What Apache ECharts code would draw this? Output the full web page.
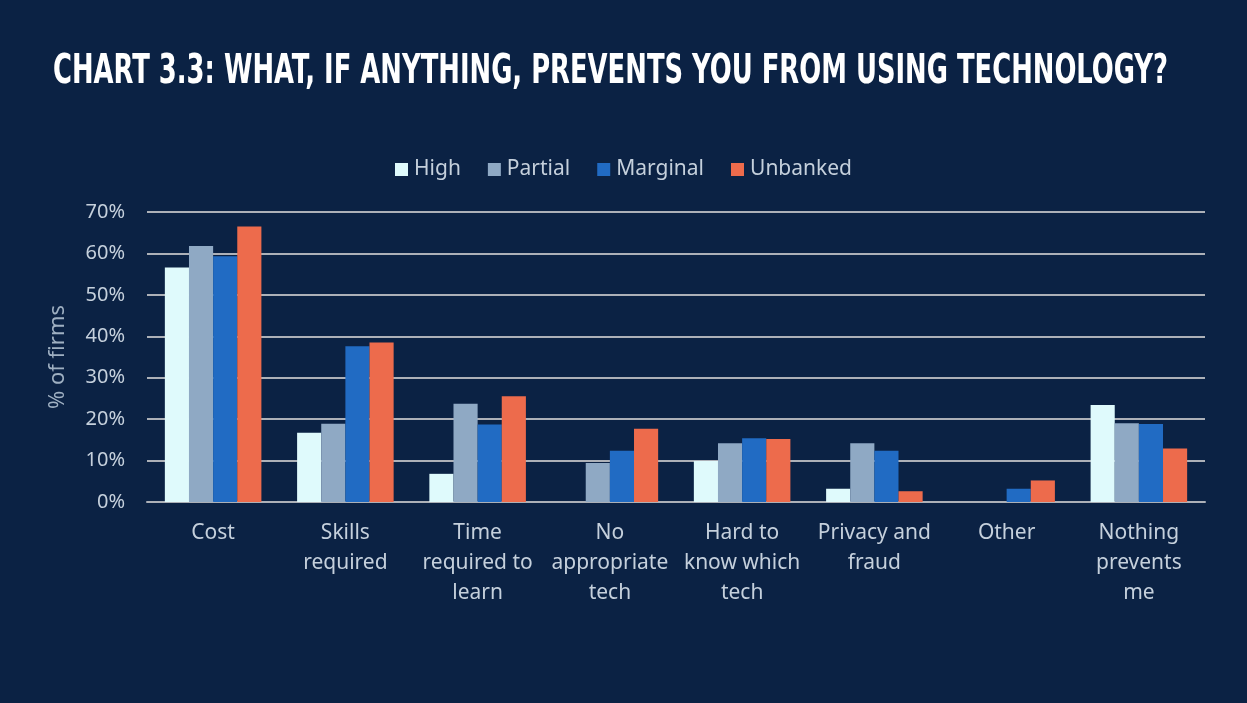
<!DOCTYPE html>
<html>
<head>
<meta charset="utf-8">
<script src="https://cdn.jsdelivr.net/npm/echarts@6/dist/echarts.min.js"></script>
<style>
  html, body { margin: 0; padding: 0; background: #0b2244; }
  #chart { width: 1247px; height: 703px; }
</style>
</head>
<body>
<div id="chart"></div>
<script>
// Barriers to technology use, share of firms by banking status
const titleText = 'CHART 3.3: WHAT, IF ANYTHING, PREVENTS YOU FROM USING TECHNOLOGY?';
const categories = [
  'Cost',
  'Skills\nrequired',
  'Time\nrequired to\nlearn',
  'No\nappropriate\ntech',
  'Hard to\nknow which\ntech',
  'Privacy and\nfraud',
  'Other',
  'Nothing\nprevents\nme'
];
const seriesNames = ['High', 'Partial', 'Marginal', 'Unbanked'];
const high     = [56.6, 16.7, 6.8, 0,    9.9, 3.2, 0,   23.4];
const partial  = [61.8, 18.9, 23.7, 9.4, 14.2, 14.2, 0,  19.0];
const marginal = [59.3, 37.6, 18.7, 12.4, 15.4, 12.4, 3.2, 18.8];
const unbanked = [66.5, 38.5, 25.5, 17.7, 15.2, 2.6, 5.2, 12.9];
const yTicks = [0, 10, 20, 30, 40, 50, 60, 70];

const colors = ['#dffafc', '#8fa9c4', '#216bc3', '#ed6b4c'];
const labelFont = '"Noto Sans", "Open Sans", sans-serif';
const values = [high, partial, marginal, unbanked];

// Condensed headline: draw bold text, then squeeze it horizontally to its column width
const titleFont = 'bold 40px "DejaVu Sans Condensed", "DejaVu Sans", sans-serif';
const titleWidth = 1115;
const measureCtx = document.createElement('canvas').getContext('2d');
measureCtx.font = titleFont;
const titleScale = titleWidth / measureCtx.measureText(titleText).width;

const chart = echarts.init(document.getElementById('chart'));
chart.setOption({
  backgroundColor: '#0b2244',
  animation: false,
  color: colors,
  graphic: [{
    type: 'text',
    x: 53,
    y: 73,
    scaleX: titleScale,
    style: {
      text: titleText,
      font: titleFont,
      fill: '#ffffff',
      align: 'left',
      verticalAlign: 'middle'
    }
  }],
  legend: {
    data: seriesNames,
    top: 154,
    left: 'center',
    itemWidth: 13,
    itemHeight: 13,
    itemGap: 27,
    icon: 'rect',
    textStyle: { color: '#c5d0dc', fontSize: 21, fontFamily: labelFont, padding: [0, 0, 0, 1] }
  },
  grid: { left: 147, right: 42, top: 212, bottom: 201, containLabel: false },
  xAxis: {
    type: 'category',
    data: categories,
    axisLine: { show: true, lineStyle: { color: '#adb1b8', width: 2 } },
    axisTick: { show: false },
    axisLabel: {
      color: '#c5d0dc',
      fontSize: 21,
      fontFamily: labelFont,
      lineHeight: 30,
      margin: 16,
      interval: 0
    }
  },
  yAxis: {
    type: 'value',
    min: 0,
    max: yTicks[yTicks.length - 1],
    interval: 10,
    name: '% of firms',
    nameLocation: 'middle',
    nameGap: 78,
    nameTextStyle: { color: '#9fb0c2', fontSize: 22, fontFamily: labelFont },
    axisLine: { show: false },
    axisTick: { show: false },
    axisLabel: {
      color: '#c5d0dc',
      fontSize: 20,
      fontFamily: labelFont,
      margin: 22,
      formatter: v => v + '%'
    },
    splitLine: { lineStyle: { color: '#adb1b8', width: 2 } }
  },
  series: seriesNames.map((name, i) => ({
    name,
    type: 'bar',
    data: values[i],
    barGap: '0%',
    barCategoryGap: '27%',
    itemStyle: { color: colors[i] }
  }))
});
</script>
</body>
</html>
